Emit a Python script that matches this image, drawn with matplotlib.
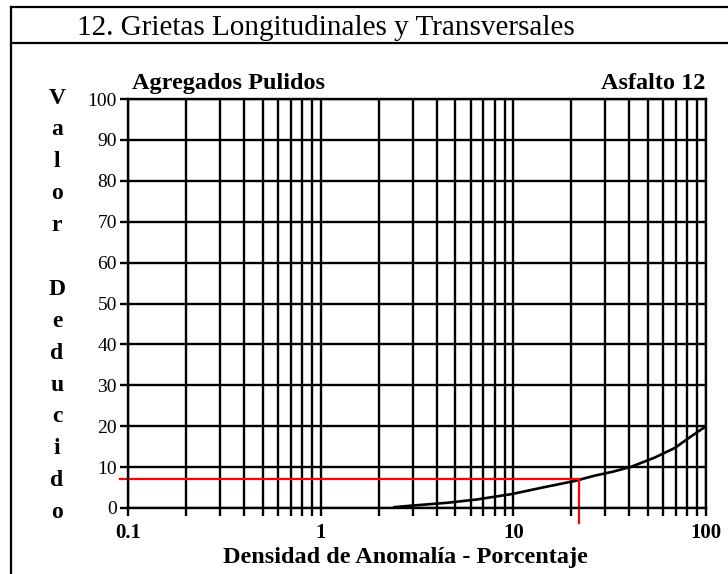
import numpy as np
import matplotlib.pyplot as plt
from matplotlib.lines import Line2D
from matplotlib.ticker import LogLocator, FixedLocator, NullFormatter

# data
densidad = [2.4, 3.0, 4.6, 6.5, 9.8, 14.5, 20.8, 26.4, 33, 41, 54, 69, 83, 100]
valor = [0.2, 0.6, 1.3, 2.1, 3.4, 5.1, 6.6, 7.9, 8.9, 10.1, 12.3, 14.7, 17.4, 20]
red_x = 21.8   # lectura de densidad
red_y = 7      # valor deducido
x_ticks = [0.1, 1, 10, 100]
x_ticklabels = ['0.1', '1', '10', '100']
y_ticks = [0, 10, 20, 30, 40, 50, 60, 70, 80, 90, 100]

W, H = 728, 574
fig = plt.figure(figsize=(W / 100, H / 100), dpi=100)
plt.rcParams['font.family'] = ['Liberation Serif', 'DejaVu Serif']

ax = fig.add_axes([128 / W, 1 - 508 / H, (706 - 128) / W, (508 - 99) / H])
ax.set_xscale('log')
ax.set_xlim(0.1, 100)
ax.set_ylim(0, 100)

ax.xaxis.set_major_locator(FixedLocator(x_ticks))
ax.set_xticklabels(x_ticklabels)
ax.xaxis.set_minor_locator(LogLocator(base=10, subs=np.arange(2, 10)))
ax.xaxis.set_minor_formatter(NullFormatter())
ax.set_yticks(y_ticks)

ax.grid(True, which='both', color='black', linewidth=1.7)
ax.set_axisbelow(True)
for s in ax.spines.values():
    s.set_linewidth(1.7)

ax.tick_params(axis='x', which='both', length=6, width=1.7, pad=5,
               labelsize=15, direction='out')
ax.tick_params(axis='y', length=6, width=1.7, pad=2, labelsize=14)
for lb in ax.get_xticklabels():
    lb.set_fontweight('bold')

# curva
ax.plot(densidad, valor, color='black', linewidth=1.9, solid_capstyle='round')

# lectura en rojo
ax.plot([0.091, red_x], [red_y, red_y], color='red', linewidth=1.6, clip_on=False)
ax.plot([red_x, red_x], [red_y, -3.7], color='red', linewidth=1.6, clip_on=False)

# textos
fig.text(132 / W, 1 - 89 / H, 'Agregados Pulidos', fontsize=17.5,
         fontweight='bold', ha='left', va='baseline')
fig.text(705 / W, 1 - 89 / H, 'Asfalto 12', fontsize=17.5,
         fontweight='bold', ha='right', va='baseline')
fig.text(405 / W, 1 - 563 / H, 'Densidad de Anomalía - Porcentaje',
         fontsize=17.5, fontweight='bold', ha='center', va='baseline')

letras = 'Valor Deducido'
for i, ch in enumerate(letras):
    if ch == ' ':
        continue
    fig.text(57 / W, 1 - (98 + i * 31.9) / H, ch, fontsize=17,
             fontweight='bold', ha='center', va='center')

fig.text(77 / W, 1 - 35 / H, '12. Grietas Longitudinales y Transversales',
         fontsize=21, ha='left', va='baseline')

# marco de la tabla
lw = 1.6
fig.add_artist(Line2D([11 / W, 11 / W], [1 - 7 / H, 0], color='black', linewidth=lw))
fig.add_artist(Line2D([11 / W, 1], [1 - 7 / H, 1 - 7 / H], color='black', linewidth=lw))
fig.add_artist(Line2D([11 / W, 1], [1 - 43 / H, 1 - 43 / H], color='black', linewidth=lw))

fig.savefig('out.png', dpi=100)
